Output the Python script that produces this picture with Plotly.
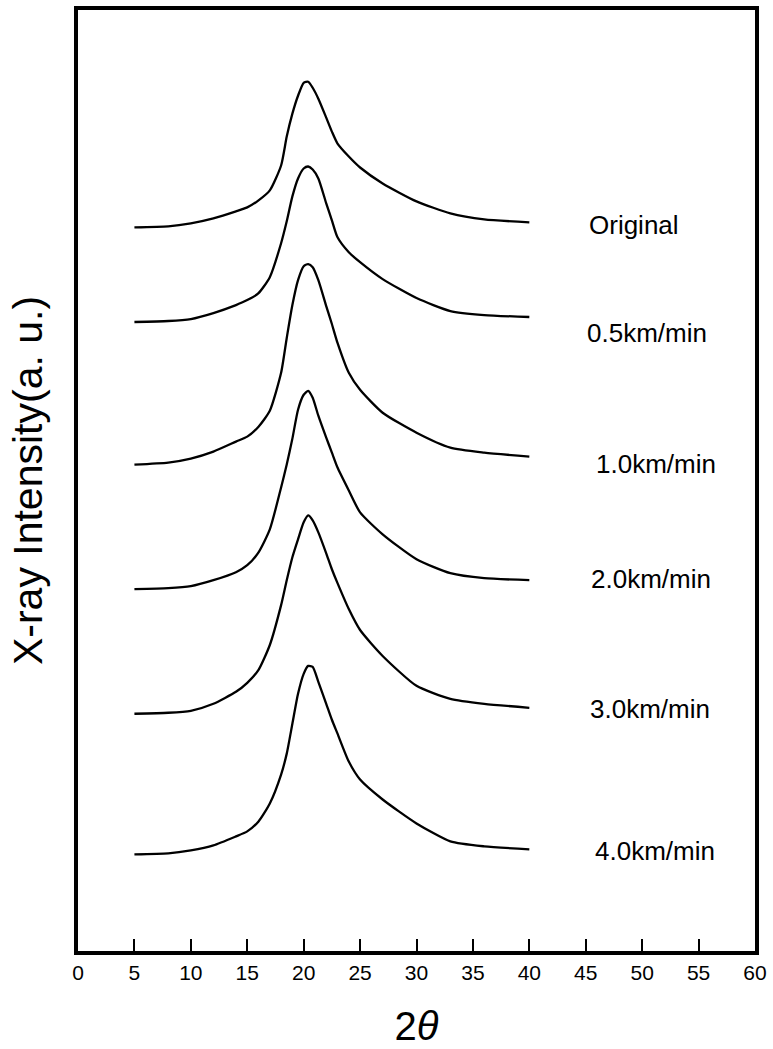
import plotly.graph_objects as go

# 2-theta sampling grid (degrees)
theta = [5, 8, 10, 12, 14, 15, 16, 17, 18, 18.5, 19, 19.5, 20, 20.4, 20.8,
         21.3, 22, 22.5, 23, 24, 25, 27, 30, 33, 36, 40]

# stacked intensity traces (a.u., already offset as in the figure)
original = [726, 727, 730, 735, 742, 746, 753, 763, 788, 817, 840, 858, 871,
            872, 866, 855, 836, 822, 810, 797, 786, 770, 752, 740, 734, 731]
km05 = [631, 632, 634, 640, 648, 653, 660, 676, 710, 732, 757, 775, 785,
        787, 784, 775, 750, 733, 716, 701, 691, 674, 655, 642, 638, 636]
km10 = [488, 490, 494, 501, 511, 516, 526, 542, 580, 615, 648, 673, 687,
        689, 686, 673, 647, 629, 610, 580, 563, 540, 520, 505, 500, 496]
km20 = [363, 364, 366, 372, 380, 387, 400, 423, 465, 488, 514, 543, 558,
        562, 555, 537, 515, 500, 485, 462, 440, 418, 393, 379, 374, 372]
km30 = [238, 239, 241, 248, 260, 269, 282, 307, 347, 372, 395, 413, 430,
        437, 432, 420, 399, 383, 369, 343, 322, 296, 266, 253, 248, 244]
km40 = [97, 98, 101, 106, 115, 120, 130, 148, 177, 198, 228, 258, 278,
        286, 285, 270, 248, 232, 218, 190, 172, 152, 128, 110, 105, 102]

series = [original, km05, km10, km20, km30, km40]
labels = ["Original", "0.5km/min", "1.0km/min", "2.0km/min", "3.0km/min", "4.0km/min"]
label_x = [49.3, 50.4, 51.2, 50.8, 50.7, 51.1]
label_y = [728, 620, 489, 373, 243, 100]

x_ticks = list(range(0, 61, 5))

fig = go.Figure()
for ys in series:
    fig.add_trace(go.Scatter(x=theta, y=ys, mode="lines",
                             line=dict(color="black", width=2.3, shape="spline", smoothing=0.6),
                             showlegend=False, hoverinfo="skip"))

for lx, ly, t in zip(label_x, label_y, labels):
    fig.add_annotation(x=lx, y=ly, text=t, showarrow=False, xanchor="center", yanchor="middle",
                       font=dict(family="Liberation Sans, Arial, sans-serif", size=26, color="black"))

fig.update_layout(
    width=773, height=1049,
    margin=dict(l=78, r=17, t=6, b=98),
    paper_bgcolor="white", plot_bgcolor="white",
    font=dict(family="Liberation Sans, Arial, sans-serif", color="black"),
)
fig.update_xaxes(range=[0, 60], tickvals=x_ticks, ticktext=[str(v) for v in x_ticks],
                 ticks="inside", ticklen=12, tickwidth=1.5, tickcolor="black",
                 showline=True, linewidth=3.5, linecolor="black", mirror=True,
                 showgrid=False, zeroline=False,
                 tickfont=dict(size=21),
                 title=dict(text="2<i>θ</i>", font=dict(size=40), standoff=30))
fig.update_yaxes(range=[0, 944], showticklabels=False, ticks="",
                 showline=True, linewidth=3.5, linecolor="black", mirror=True,
                 showgrid=False, zeroline=False,
                 title=dict(text="X-ray Intensity(a. u.)", font=dict(size=41), standoff=20))

fig.write_html("out.html", config={"displayModeBar": False},
               post_script="document.body.style.margin='0px';")
